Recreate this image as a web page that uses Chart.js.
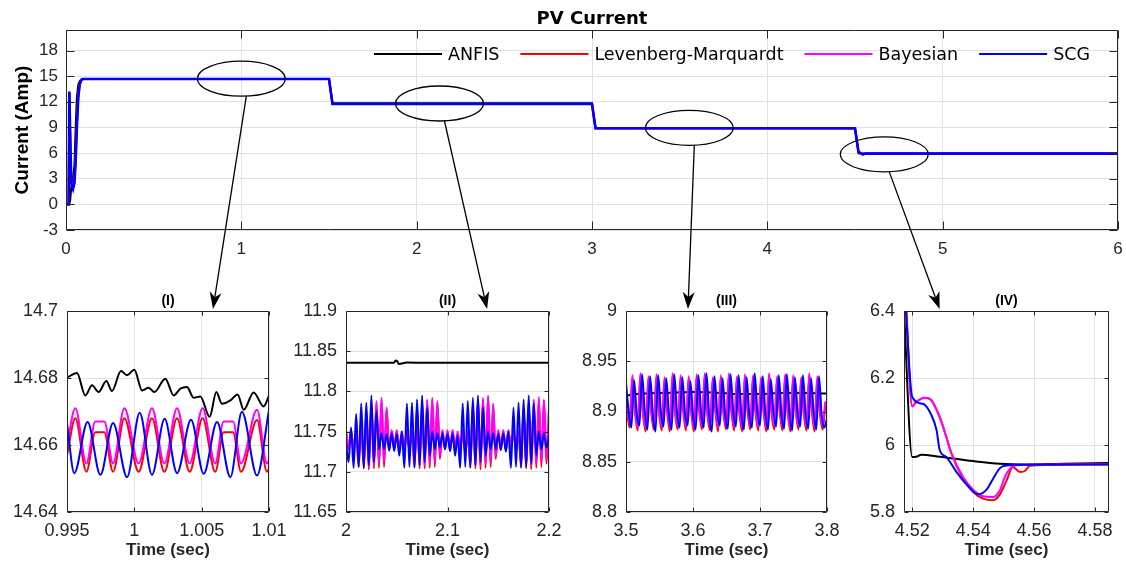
<!DOCTYPE html>
<html>
<head>
<meta charset="utf-8">
<script src="https://cdn.jsdelivr.net/npm/chart.js@4.4.1/dist/chart.umd.min.js"></script>
<style>
  body { margin: 0; background: #fff; }
  #wrap { position: relative; width: 1126px; height: 562px; overflow: hidden; background: #fff; }
  #wrap canvas { position: absolute; }
</style>
</head>
<body>
<div id="wrap"></div>
<script>
// ---- data ----
var methodNames = ['ANFIS', 'Levenberg-Marquardt', 'Bayesian', 'SCG'];
var methodColors = ['#000000', '#ff0000', '#ff00ff', '#0000ff'];

// main plot (whole 6 s run)
var mainTime  = [0, 0.015, 0.019, 0.024, 0.03, 0.04, 0.048, 0.055, 0.062, 0.07, 0.078, 0.086, 0.095, 1.5, 1.52, 3.0, 3.02, 4.5, 4.52, 4.545, 4.56, 6];
var mainAnfis = [0, 0, 0, 0.5, 2, 3.2, 4.5, 9, 12.5, 14, 14.4, 14.6, 14.68, 14.68, 11.835, 11.835, 8.918, 8.918, 5.965, 5.955, 5.945, 5.946];
var mainLM    = [0, 0, 13, 8.2, 2.7, 2, 2.8, 5.5, 9.5, 12.8, 14.1, 14.5, 14.66, 14.66, 11.74, 11.74, 8.905, 8.905, 6.12, 5.84, 5.94, 5.94];
var mainBayes = [0, 0, 13.1, 8.1, 2.6, 1.9, 2.6, 5.2, 9.2, 12.6, 14, 14.5, 14.665, 14.665, 11.745, 11.745, 8.91, 8.91, 6.13, 5.85, 5.94, 5.94];
var mainSCG   = [0, 0, 13.2, 8, 2.5, 1.8, 2.5, 5, 9, 12.5, 14, 14.5, 14.66, 14.66, 11.745, 11.745, 8.91, 8.91, 6.14, 5.86, 5.94, 5.94];

// (I) zoom around 1 s
var p1AnfisTime = [0.995, 0.99574, 0.99636, 0.99686, 0.99735, 0.99792, 0.99834, 0.99901, 0.99946, 1.0, 1.00057, 1.00106, 1.00149, 1.0023, 1.00292, 1.00342, 1.00391, 1.0044, 1.0049, 1.00559, 1.00609, 1.00651, 1.00713, 1.00767, 1.00812, 1.00886, 1.0096, 1.01];
var p1Anfis     = [14.6801, 14.6815, 14.6748, 14.6778, 14.6758, 14.6791, 14.6761, 14.6821, 14.6808, 14.6825, 14.6763, 14.6771, 14.6758, 14.6798, 14.6748, 14.6768, 14.6773, 14.6741, 14.6745, 14.6684, 14.6758, 14.6723, 14.6733, 14.6751, 14.6705, 14.6757, 14.6715, 14.6747];
var p1WaveTime  = [0.995, 0.99562, 0.99644, 0.9971, 0.99777, 0.99842, 0.99926, 1.00032, 1.00131, 1.00223, 1.00317, 1.00411, 1.00507, 1.00601, 1.00663, 1.00733, 1.00792, 1.00911, 1.00985, 1.01];
var p1LM        = [14.657, 14.668, 14.652, 14.6638, 14.6638, 14.652, 14.668, 14.652, 14.668, 14.652, 14.668, 14.652, 14.668, 14.652, 14.6638, 14.6638, 14.652, 14.6675, 14.652, 14.653];
var p1Bayes     = [14.66, 14.671, 14.6545, 14.667, 14.667, 14.6545, 14.671, 14.6545, 14.671, 14.6545, 14.671, 14.6545, 14.671, 14.6545, 14.667, 14.667, 14.6545, 14.6705, 14.6545, 14.6555];
var p1SCGTime   = [0.995, 0.99554, 0.99653, 0.99748, 0.99842, 0.99946, 1.0004, 1.00131, 1.00225, 1.00317, 1.00421, 1.00515, 1.00614, 1.00713, 1.00799, 1.00911, 1.01];
var p1SCG       = [14.6664, 14.6516, 14.6669, 14.6511, 14.6666, 14.6504, 14.6696, 14.6511, 14.6678, 14.6516, 14.6675, 14.6514, 14.6669, 14.6504, 14.6699, 14.6509, 14.6705];

// (II) zoom 2.0 - 2.2 s, oscillating series sampled every 2.5 ms
var p2AnfisTime = [2, 2.047, 2.049, 2.0505, 2.052, 2.06, 2.08, 2.2];
var p2Anfis     = [11.8355, 11.8355, 11.8385, 11.8375, 11.834, 11.8358, 11.8355, 11.8355];
var p2Start = 2, p2Step = 0.0025;
var p2LM = [11.75, 11.728, 11.75, 11.726, 11.748, 11.706, 11.762, 11.704, 11.772, 11.703,
  11.782, 11.704, 11.786, 11.705, 11.79, 11.706, 11.778, 11.726, 11.75, 11.728,
  11.75, 11.726, 11.748, 11.728, 11.75, 11.726, 11.748, 11.706, 11.778, 11.704,
  11.784, 11.704, 11.788, 11.705, 11.79, 11.706, 11.786, 11.716, 11.75, 11.728,
  11.75, 11.726, 11.75, 11.728, 11.748, 11.726, 11.75, 11.722, 11.748, 11.706,
  11.782, 11.704, 11.788, 11.703, 11.79, 11.705, 11.792, 11.706, 11.782, 11.716,
  11.75, 11.728, 11.75, 11.726, 11.75, 11.728, 11.75, 11.726, 11.748, 11.706,
  11.778, 11.704, 11.784, 11.703, 11.788, 11.705, 11.79, 11.706, 11.788, 11.71, 11.776];
var p2Bayes = [11.752, 11.73, 11.752, 11.728, 11.75, 11.712, 11.765, 11.708, 11.775, 11.706,
  11.785, 11.708, 11.788, 11.71, 11.792, 11.712, 11.78, 11.728, 11.752, 11.73,
  11.752, 11.728, 11.75, 11.73, 11.752, 11.728, 11.75, 11.71, 11.78, 11.708,
  11.786, 11.708, 11.79, 11.71, 11.792, 11.712, 11.788, 11.72, 11.752, 11.73,
  11.752, 11.728, 11.752, 11.73, 11.75, 11.728, 11.752, 11.725, 11.75, 11.71,
  11.785, 11.708, 11.79, 11.708, 11.792, 11.71, 11.795, 11.712, 11.785, 11.72,
  11.752, 11.73, 11.752, 11.728, 11.752, 11.73, 11.752, 11.728, 11.75, 11.71,
  11.78, 11.708, 11.786, 11.708, 11.79, 11.71, 11.793, 11.712, 11.79, 11.715, 11.78];
var p2SCG = [11.738, 11.712, 11.755, 11.705, 11.772, 11.706, 11.785, 11.705, 11.786, 11.708,
  11.795, 11.712, 11.776, 11.728, 11.748, 11.728, 11.747, 11.727, 11.748, 11.726,
  11.747, 11.72, 11.75, 11.705, 11.785, 11.706, 11.786, 11.705, 11.79, 11.708,
  11.795, 11.712, 11.78, 11.72, 11.75, 11.728, 11.748, 11.73, 11.748, 11.728,
  11.747, 11.726, 11.748, 11.72, 11.745, 11.705, 11.785, 11.706, 11.788, 11.705,
  11.792, 11.708, 11.795, 11.712, 11.78, 11.72, 11.75, 11.728, 11.748, 11.728,
  11.747, 11.727, 11.748, 11.725, 11.75, 11.705, 11.78, 11.706, 11.786, 11.705,
  11.79, 11.706, 11.795, 11.71, 11.785, 11.72, 11.75, 11.728, 11.748, 11.73, 11.745];

// (III) zoom 3.5 - 3.8 s, sampled every 4 ms (red/magenta lead blue slightly)
var p3AnfisTime = [3.5, 3.51, 3.53, 3.56, 3.6, 3.63, 3.66, 3.7, 3.73, 3.76, 3.8];
var p3Anfis     = [8.9155, 8.917, 8.918, 8.9185, 8.9195, 8.919, 8.9175, 8.9175, 8.9185, 8.9185, 8.918];
var p3Start = 3.5, p3LeadStart = 3.4975, p3Step = 0.004;
var p3LM = [8.923, 8.9, 8.884, 8.934, 8.899, 8.881, 8.936, 8.897, 8.88, 8.933, 8.9, 8.882,
  8.935, 8.898, 8.881, 8.932, 8.899, 8.88, 8.936, 8.897, 8.882, 8.934, 8.9, 8.881,
  8.933, 8.898, 8.88, 8.935, 8.899, 8.882, 8.936, 8.897, 8.881, 8.932, 8.9, 8.88,
  8.934, 8.898, 8.882, 8.936, 8.899, 8.881, 8.933, 8.897, 8.88, 8.935, 8.9, 8.882,
  8.934, 8.898, 8.881, 8.932, 8.899, 8.88, 8.936, 8.897, 8.882, 8.933, 8.9, 8.881,
  8.935, 8.898, 8.88, 8.934, 8.899, 8.882, 8.932, 8.897, 8.881, 8.936, 8.9, 8.88,
  8.933, 8.898, 8.882, 8.906];
var p3Bayes = [8.925, 8.902, 8.888, 8.936, 8.901, 8.885, 8.938, 8.899, 8.884, 8.935, 8.902, 8.886,
  8.937, 8.9, 8.885, 8.934, 8.901, 8.884, 8.938, 8.899, 8.886, 8.936, 8.902, 8.885,
  8.935, 8.9, 8.884, 8.937, 8.901, 8.886, 8.938, 8.899, 8.885, 8.934, 8.902, 8.884,
  8.936, 8.9, 8.886, 8.938, 8.901, 8.885, 8.935, 8.899, 8.884, 8.937, 8.902, 8.886,
  8.936, 8.9, 8.885, 8.934, 8.901, 8.884, 8.938, 8.899, 8.886, 8.935, 8.902, 8.885,
  8.937, 8.9, 8.884, 8.936, 8.901, 8.886, 8.934, 8.899, 8.885, 8.938, 8.902, 8.884,
  8.935, 8.9, 8.886, 8.91];
var p3SCG = [8.929, 8.9, 8.884, 8.931, 8.898, 8.886, 8.937, 8.9, 8.882, 8.935, 8.897, 8.88,
  8.936, 8.9, 8.885, 8.933, 8.898, 8.882, 8.937, 8.9, 8.884, 8.934, 8.899, 8.886,
  8.93, 8.897, 8.882, 8.936, 8.9, 8.884, 8.938, 8.898, 8.88, 8.935, 8.9, 8.886,
  8.933, 8.897, 8.883, 8.937, 8.9, 8.885, 8.936, 8.899, 8.882, 8.934, 8.897, 8.884,
  8.938, 8.9, 8.886, 8.935, 8.898, 8.882, 8.932, 8.9, 8.885, 8.936, 8.897, 8.883,
  8.937, 8.899, 8.881, 8.934, 8.9, 8.885, 8.936, 8.898, 8.883, 8.933, 8.9, 8.882,
  8.935, 8.897, 8.884, 8.893];

// (IV) zoom on the last step at 4.52 s
var p4AnfisTime = [4.5172, 4.52, 4.5213, 4.523, 4.529, 4.54, 4.5488, 4.5576, 4.57, 4.5846];
var p4Anfis     = [6.42, 5.964, 5.965, 5.971, 5.965, 5.952, 5.944, 5.942, 5.944, 5.946];
var p4LMTime    = [4.5178, 4.52, 4.5213, 4.5241, 4.5263, 4.529, 4.5312, 4.5329, 4.5367, 4.54, 4.5433, 4.5464, 4.5488, 4.551, 4.553, 4.5554, 4.557, 4.5587, 4.5846];
var p4LM        = [6.45, 6.1154, 6.1284, 6.1413, 6.1333, 6.0836, 6.0239, 5.9741, 5.8995, 5.8597, 5.8398, 5.8348, 5.8527, 5.8945, 5.9343, 5.9194, 5.9224, 5.9383, 5.9423];
var p4BayesTime = [4.5178, 4.52, 4.5213, 4.5241, 4.5263, 4.529, 4.5312, 4.5329, 4.5367, 4.54, 4.5433, 4.5466, 4.5488, 4.5504, 4.5521, 4.5543, 4.5846];
var p4Bayes     = [6.45, 6.1154, 6.1284, 6.1413, 6.1333, 6.0836, 6.0239, 5.9741, 5.9045, 5.8667, 5.8468, 5.8448, 5.8647, 5.9045, 5.9294, 5.9393, 5.9423];
var p4SCGTime   = [4.5176, 4.52, 4.5235, 4.5263, 4.528, 4.529, 4.5312, 4.5345, 4.5378, 4.5417, 4.5444, 4.5466, 4.5488, 4.551, 4.5554, 4.5846];
var p4SCG       = [6.45, 6.143, 6.123, 6.089, 6.044, 5.986, 5.964, 5.92, 5.883, 5.853, 5.867, 5.9, 5.931, 5.939, 5.941, 5.942];

// ellipses on the main plot (time, current) and where each arrow lands in its panel
var zoomSpotTime = [1.0, 2.13, 3.555, 4.667];
var zoomSpotCurrent = [14.7, 11.8, 8.95, 5.85];
var arrowTipTime = [1.00584, 2.139, 3.5925, 4.529];

// ---- helpers ----
var FONT = "'Liberation Sans', Arial, sans-serif";
var WIDE_FONT = "'DejaVu Sans', sans-serif";
Chart.defaults.font.family = FONT;
Chart.defaults.color = '#262626';

function pts(times, values) {
  return values.map(function (v, i) { return {x: times[i], y: v}; });
}
function sampled(start, step, values) {
  return values.map(function (v, i) { return {x: +(start + i * step).toFixed(5), y: v}; });
}
function cleanNum(v) { return String(+(+v).toFixed(6)); }

function series(k, data, width, smooth) {
  return {
    label: methodNames[k],
    data: data,
    borderColor: methodColors[k],
    backgroundColor: methodColors[k],
    borderWidth: width,
    pointRadius: 0,
    order: 3 - k,              // SCG on top, like the MATLAB plot order
    tension: 0,
    cubicInterpolationMode: smooth ? 'monotone' : 'default',
    clip: 0
  };
}

function addCanvas(id, left, top, w, h) {
  var c = document.createElement('canvas');
  c.id = id; c.width = w; c.height = h;
  c.style.left = left + 'px'; c.style.top = top + 'px';
  c.style.width = w + 'px'; c.style.height = h + 'px';
  document.getElementById('wrap').appendChild(c);
  return c;
}

// box around the axes with inward ticks, MATLAB style
var matlabBox = {
  id: 'matlabBox',
  afterDraw: function (chart, args, opts) {
    var a = chart.chartArea, ctx = chart.ctx, len = opts.tick || 5;
    var l = Math.round(a.left) + 0.5, r = Math.round(a.right) - 0.5;
    var t = Math.round(a.top) + 0.5, b = Math.round(a.bottom) - 0.5;
    ctx.save();
    ctx.strokeStyle = '#262626';
    ctx.lineWidth = 1;
    ctx.beginPath();
    ctx.rect(l, t, r - l, b - t);
    chart.scales.x.ticks.forEach(function (tk) {
      var px = Math.round(chart.scales.x.getPixelForValue(tk.value)) + 0.5;
      ctx.moveTo(px, b); ctx.lineTo(px, b - len);
      ctx.moveTo(px, t); ctx.lineTo(px, t + len);
    });
    chart.scales.y.ticks.forEach(function (tk) {
      var py = Math.round(chart.scales.y.getPixelForValue(tk.value)) + 0.5;
      ctx.moveTo(l, py); ctx.lineTo(l + len, py);
      ctx.moveTo(r, py); ctx.lineTo(r - len, py);
    });
    ctx.stroke();
    ctx.restore();
  }
};

// legend drawn inside the plot area
var insideLegend = {
  id: 'insideLegend',
  afterDraw: function (chart, args, opts) {
    var ctx = chart.ctx;
    ctx.save();
    ctx.font = '17.5px ' + WIDE_FONT;
    ctx.textBaseline = 'middle';
    ctx.fillStyle = '#000';
    var x = opts.left, y = opts.y;
    methodNames.forEach(function (name, k) {
      ctx.strokeStyle = methodColors[k];
      ctx.lineWidth = 2;
      ctx.beginPath();
      ctx.moveTo(x, y); ctx.lineTo(x + opts.line, y);
      ctx.stroke();
      x += opts.line + 6;
      ctx.fillText(name, x, y + 1);
      x += ctx.measureText(name).width + opts.gap;
    });
    ctx.restore();
  }
};

function fixedAxis(width, height) {
  return function (scale) {
    if (width != null) scale.width = width;
    if (height != null) scale.height = height;
    scale.paddingLeft = 0; scale.paddingRight = 0;
    scale.paddingTop = 0; scale.paddingBottom = 0;
  };
}

// ---- main chart ----
var mainBox = {left: 0, top: 0, width: 1126, height: 270, areaLeft: 66, areaRight: 1118, axisH: 40};
var mainCanvas = addCanvas('mainChart', mainBox.left, mainBox.top, mainBox.width, mainBox.height);
var mainChart = new Chart(mainCanvas.getContext('2d'), {
  type: 'line',
  data: {
    datasets: [
      series(0, pts(mainTime, mainAnfis), 2, false),
      series(1, pts(mainTime, mainLM), 2, false),
      series(2, pts(mainTime, mainBayes), 2, false),
      series(3, pts(mainTime, mainSCG), 2.6, false)
    ]
  },
  options: {
    responsive: false, animation: false, events: [],
    layout: {padding: {left: 0, right: mainBox.width - mainBox.areaRight, top: 0, bottom: 0}},
    scales: {
      x: {
        type: 'linear', min: 0, max: 6,
        grid: {color: '#e2e2e2', drawTicks: false},
        border: {display: false},
        ticks: {stepSize: 1, padding: 9, maxRotation: 0, autoSkip: false, font: {size: 17}, callback: cleanNum},
        afterFit: fixedAxis(null, mainBox.axisH)
      },
      y: {
        type: 'linear', min: -3, max: 20.4,
        grid: {color: '#e2e2e2', drawTicks: false},
        border: {display: false},
        ticks: {stepSize: 3, includeBounds: false, padding: 8, font: {size: 17}, callback: cleanNum},
        title: {display: true, text: 'Current (Amp)', color: '#000', font: {size: 19, weight: 'bold', lineHeight: 1.2}, padding: {top: 11, bottom: 0}},
        afterFit: fixedAxis(mainBox.areaLeft, null)
      }
    },
    plugins: {
      legend: {display: false},
      tooltip: {enabled: false},
      title: {display: true, text: 'PV Current', fullSize: false, color: '#000',
        font: {family: WIDE_FONT, size: 18, weight: 'bold', lineHeight: 1.2},
        padding: {top: 8.4, bottom: 0}},
      matlabBox: {tick: 8},
      insideLegend: {left: 374, y: 54, line: 68, gap: 21}
    }
  },
  plugins: [matlabBox, insideLegend]
});

// ---- zoom panels ----
var panels = [
  {id: 'p1', left: 0, top: 285, width: 300, areaLeft: 67, areaRight: 269, title: '(I)',
    x: [0.995, 1.01, 0.005], y: [14.64, 14.7, 0.02],
    sets: [pts(p1AnfisTime, p1Anfis), pts(p1WaveTime, p1LM), pts(p1WaveTime, p1Bayes), pts(p1SCGTime, p1SCG)]},
  {id: 'p2', left: 280, top: 285, width: 300, areaLeft: 346, areaRight: 549, title: '(II)',
    x: [2, 2.2, 0.1], y: [11.65, 11.9, 0.05],
    sets: [pts(p2AnfisTime, p2Anfis), sampled(p2Start, p2Step, p2LM), sampled(p2Start, p2Step, p2Bayes), sampled(p2Start, p2Step, p2SCG)]},
  {id: 'p3', left: 560, top: 285, width: 300, areaLeft: 626, areaRight: 827, title: '(III)',
    x: [3.5, 3.8, 0.1], y: [8.8, 9, 0.05],
    sets: [pts(p3AnfisTime, p3Anfis), sampled(p3LeadStart, p3Step, p3LM), sampled(p3LeadStart, p3Step, p3Bayes), sampled(p3Start, p3Step, p3SCG)]},
  {id: 'p4', left: 840, top: 285, width: 286, areaLeft: 904, areaRight: 1109, title: '(IV)',
    x: [4.5173, 4.5846, 0.02], y: [5.8, 6.4, 0.2],
    sets: [pts(p4AnfisTime, p4Anfis), pts(p4LMTime, p4LM), pts(p4BayesTime, p4Bayes), pts(p4SCGTime, p4SCG)]}
];
var panelHeight = 277, panelAxisH = 50;

panels.forEach(function (p) {
  var cv = addCanvas(p.id, p.left, p.top, p.width, panelHeight);
  p.chart = new Chart(cv.getContext('2d'), {
    type: 'line',
    data: {datasets: p.sets.map(function (d, k) { return series(k, d, 2, true); })},
    options: {
      responsive: false, animation: false, events: [],
      layout: {padding: {left: 0, right: p.left + p.width - p.areaRight, top: 0, bottom: 0}},
      scales: {
        x: {
          type: 'linear', min: p.x[0], max: p.x[1],
          grid: {color: '#e2e2e2', drawTicks: false},
          border: {display: false},
          ticks: {stepSize: p.x[2], includeBounds: false, padding: 8.5, maxRotation: 0, autoSkip: false, font: {size: 18}, callback: cleanNum},
          title: {display: true, text: 'Time (sec)', color: '#262626', font: {size: 17, weight: 'bold', lineHeight: 1.2}, padding: {top: 0, bottom: 1.5}},
          afterFit: fixedAxis(null, panelAxisH)
        },
        y: {
          type: 'linear', min: p.y[0], max: p.y[1],
          grid: {color: '#e2e2e2', drawTicks: false},
          border: {display: false},
          ticks: {stepSize: p.y[2], includeBounds: false, padding: 9, font: {size: 18}, callback: cleanNum},
          afterFit: fixedAxis(p.areaLeft - p.left, null)
        }
      },
      plugins: {
        legend: {display: false},
        tooltip: {enabled: false},
        title: {display: true, text: p.title, fullSize: false, color: '#000',
          font: {size: 14, weight: 'bold', lineHeight: 1.2}, padding: {top: 8, bottom: 1.2}},
        matlabBox: {tick: 4}
      }
    },
    plugins: [matlabBox]
  });
});

// ---- ellipses and arrows linking the main plot to the panels ----
function drawAnnotations() {
  var ov = addCanvas('overlay', 0, 0, 1126, 562);
  ov.style.pointerEvents = 'none';
  var ctx = ov.getContext('2d');
  var rx = 44, ry = 17.5;
  ctx.strokeStyle = '#000';
  ctx.fillStyle = '#000';
  ctx.lineWidth = 1.3;
  zoomSpotTime.forEach(function (t, i) {
    var cx = mainBox.left + mainChart.scales.x.getPixelForValue(t);
    var cy = mainBox.top + mainChart.scales.y.getPixelForValue(zoomSpotCurrent[i]);
    ctx.beginPath();
    ctx.ellipse(cx, cy, rx, ry, 0, 0, Math.PI * 2);
    ctx.stroke();

    var p = panels[i];
    var tx = p.left + p.chart.scales.x.getPixelForValue(arrowTipTime[i]);
    var ty = p.top + p.chart.chartArea.top - 2;
    var sx = cx + 5, sy = cy + ry;
    var dx = tx - sx, dy = ty - sy, d = Math.sqrt(dx * dx + dy * dy);
    var ux = dx / d, uy = dy / d, nx = -uy, ny = ux;
    var L = 17, W = 6, notch = 5;
    ctx.beginPath();
    ctx.moveTo(sx, sy);
    ctx.lineTo(tx - ux * (L - notch), ty - uy * (L - notch));
    ctx.stroke();
    ctx.beginPath();
    ctx.moveTo(tx, ty);
    ctx.lineTo(tx - ux * L + nx * W, ty - uy * L + ny * W);
    ctx.lineTo(tx - ux * (L - notch), ty - uy * (L - notch));
    ctx.lineTo(tx - ux * L - nx * W, ty - uy * L - ny * W);
    ctx.closePath();
    ctx.fill();
  });
}
drawAnnotations();
</script>
</body>
</html>
